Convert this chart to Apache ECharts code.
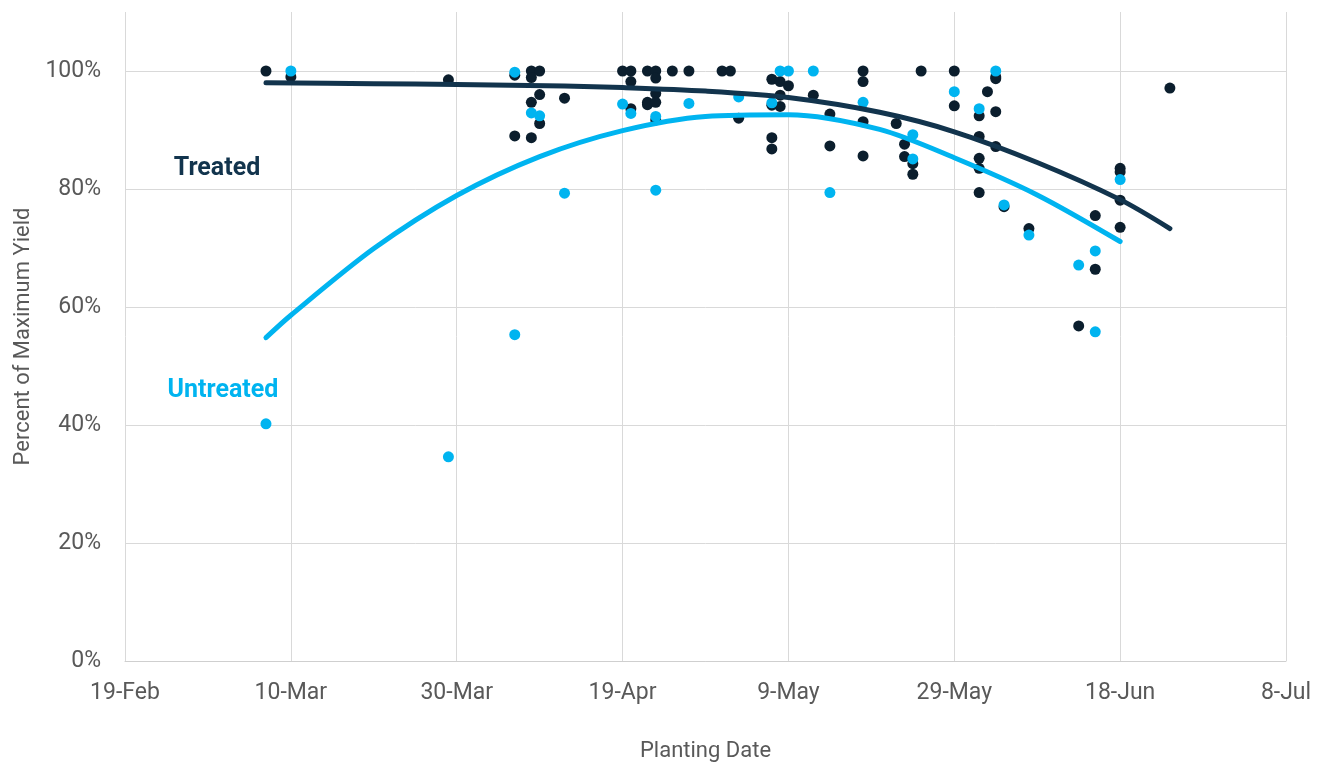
<!DOCTYPE html>
<html>
<head>
<meta charset="utf-8">
<script src="https://cdn.jsdelivr.net/npm/echarts@6/dist/echarts.min.js"></script>
<style>
html,body{margin:0;padding:0;background:#fff;}
#chart{width:1325px;height:764px;}
</style>
</head>
<body>
<div id="chart"></div>
<script>
// x values are days after 19-Feb
const xTickLabels = ['19-Feb','10-Mar','30-Mar','19-Apr','9-May','29-May','18-Jun','8-Jul'];

const treatedPoints = [
  [17,100],[20,99],[39,98.5],[47,99.3],[47,89.0],
  [49,100],[49,98.9],[50,100],[50,96.0],[49,94.7],[50,91.1],[49,88.7],[53,95.4],
  [60,100],[61,100],[61,98.2],[61,93.6],[63,100],[63,94.7],[63,94.3],
  [64,100],[64,98.8],[64,96.2],[64,94.7],[64,91.7],[66,100],[68,100],[72,100],[73,100],[74,92.0],
  [78,98.6],[79,98.2],[80,97.5],[79,95.9],[78,94.2],[79,94.0],[78,88.7],[78,86.8],
  [83,95.9],[85,92.7],[85,87.3],[89,100],[89,98.2],[89,91.4],[89,85.6],
  [93,91.1],[94,87.6],[94,85.5],[95,84.3],[95,82.5],[96,100],[100,100],[100,94.1],
  [104,96.5],[103,92.4],[105,93.1],[105,99.0],[105,98.7],[103,88.9],[103,85.2],[103,83.5],[103,79.4],
  [105,87.2],[106,77.0],[109,73.3],[117,75.5],[117,66.4],[115,56.8],
  [120,83.5],[120,82.9],[120,78.1],[120,73.5],[126,97.1]
];

const untreatedPoints = [
  [17,40.2],[20,100],[39,34.6],[47,99.8],[47,55.3],[49,92.9],[50,92.4],[53,79.3],
  [60,94.4],[61,92.8],[64,92.3],[64,79.8],[68,94.5],[74,95.6],[78,94.6],[79,100],[80,100],[83,100],
  [85,79.4],[89,94.7],[95,89.2],[95,85.1],[100,96.5],[103,93.6],[105,100],[106,77.3],[109,72.2],
  [115,67.1],[117,69.5],[117,55.8],[120,81.6]
];

const treatedTrend = [
  [17,98.0],[30,97.85],[40,97.7],[53,97.45],[60,97.2],[70,96.6],[80,95.5],[91,93.0],
  [100,89.7],[110,84.5],[120,78.2],[126,73.3]
];

const untreatedTrend = [
  [17,54.8],[20,58.6],[30,69.9],[40,78.9],[50,85.5],[60,89.9],[70,92.3],[80,92.6],
  [91,90.1],[100,85.3],[110,79.0],[120,71.1]
];

const FONT = "Roboto,'Liberation Sans',sans-serif";
const DARK = '#12344d';
const DOT_DARK = '#0b1e2d';
const CYAN = '#00b4f0';
const GRID = '#d9d9d9';
const TEXT = '#595959';

const chart = echarts.init(document.getElementById('chart'), null, {renderer:'canvas'});
chart.setOption({
  animation: false,
  backgroundColor: '#fff',
  grid: {left:125, right:39, top:12, bottom:103, containLabel:false, outerBoundsMode:'none'},
  xAxis: {
    type:'value', min:0, max:140, interval:20,
    name:'Planting Date', nameLocation:'middle', nameGap:79,
    nameTextStyle:{fontFamily:FONT, fontSize:22, color:TEXT},
    axisLine:{show:true, lineStyle:{color:'#cfcfcf', width:1}},
    axisTick:{show:false},
    axisLabel:{margin:21, fontFamily:FONT, fontSize:23, color:TEXT,
      formatter: v => xTickLabels[Math.round(v/20)] || ''},
    splitLine:{show:true, lineStyle:{color:GRID, width:1}}
  },
  yAxis: {
    type:'value', min:0, max:110, interval:20,
    name:'Percent of Maximum Yield', nameLocation:'middle', nameGap:84,
    nameTextStyle:{fontFamily:FONT, fontSize:22, color:TEXT},
    axisLine:{show:false}, axisTick:{show:false},
    axisLabel:{margin:24, fontFamily:FONT, fontSize:23, color:TEXT, showMaxLabel:false,
      formatter: v => v > 100 ? '' : v + '%'},
    splitLine:{show:true, showMaxLine:false, lineStyle:{color:GRID, width:1}}
  },
  series: [
    {type:'scatter', name:'Treated', data:treatedPoints, symbolSize:11,
      itemStyle:{color:DOT_DARK, opacity:1}, z:2},
    {type:'scatter', name:'Untreated', data:untreatedPoints, symbolSize:11,
      itemStyle:{color:CYAN, opacity:1}, z:3},
    {type:'line', name:'Treated trend', data:treatedTrend, smooth:0.3, showSymbol:false,
      lineStyle:{color:DARK, width:5, cap:'round'}, z:4},
    {type:'line', name:'Untreated trend', data:untreatedTrend, smooth:0.3, showSymbol:false,
      lineStyle:{color:CYAN, width:5, cap:'round'}, z:5}
  ],
  graphic: [
    {type:'text', x:217, y:169, z:10, style:{text:'Treated', fill:DARK, font:"bold 25px " + FONT, align:'center', verticalAlign:'middle'}},
    {type:'text', x:223, y:391, z:10, style:{text:'Untreated', fill:CYAN, font:"bold 25px " + FONT, align:'center', verticalAlign:'middle'}}
  ]
});
</script>
</body>
</html>
